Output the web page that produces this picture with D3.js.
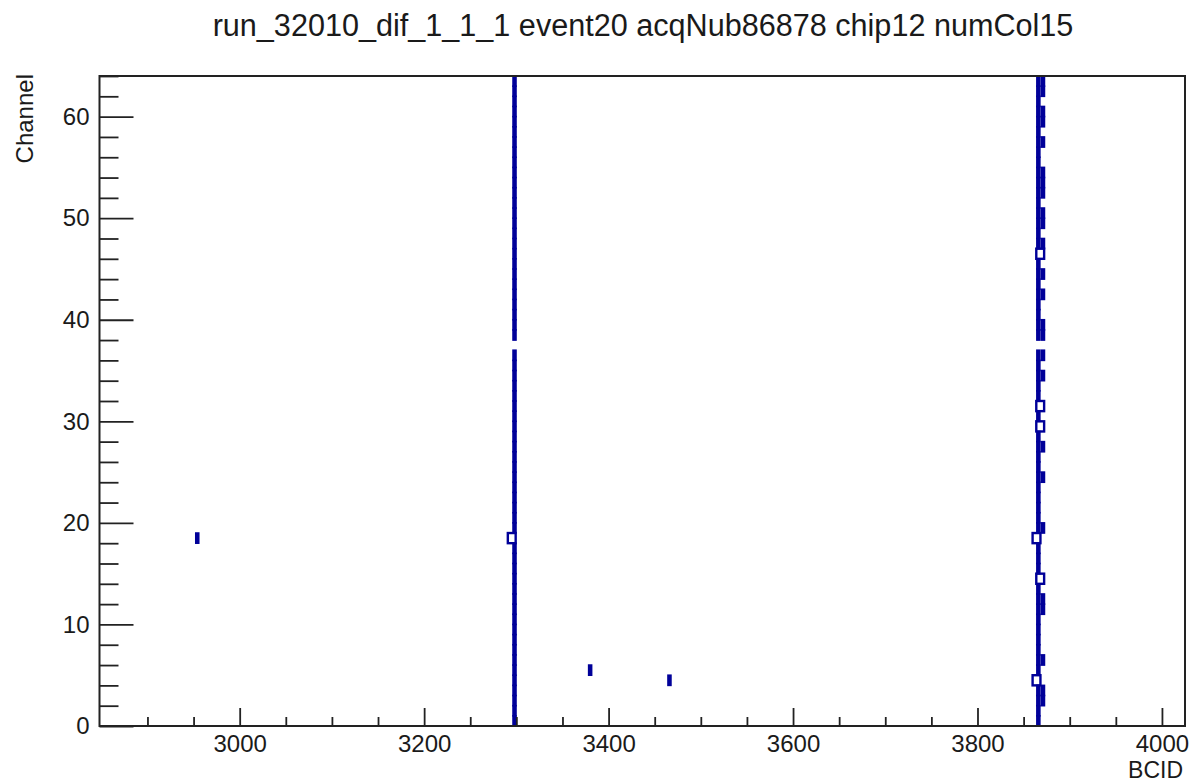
<!DOCTYPE html>
<html>
<head>
<meta charset="utf-8">
<script src="https://cdn.jsdelivr.net/npm/d3@7/dist/d3.min.js"></script>
<style>
  html, body { margin: 0; padding: 0; background: #fff; }
  svg { display: block; }
  text { font-family: "Liberation Sans", Arial, Helvetica, sans-serif; fill: #1a1a1a; }
</style>
</head>
<body>
<svg id="chart" width="1193" height="783"></svg>
<script>
// ---------------- data ----------------
const chartTitle = "run_32010_dif_1_1_1 event20 acqNub86878 chip12 numCol15";
const xTitle = "BCID";
const yTitle = "Channel";

const bcidRange = [2848, 4025];
const channelRange = [0, 64];

const xMajorTicks = [3000, 3200, 3400, 3600, 3800, 4000];
const xMinorTicks = [2900, 2950, 3050, 3100, 3150, 3250, 3300, 3350, 3450, 3500, 3550, 3650, 3700, 3750, 3850, 3900, 3950];
const yMajorTicks = [0, 10, 20, 30, 40, 50, 60];
const yMinorTicks = [2, 4, 6, 8, 12, 14, 16, 18, 22, 24, 26, 28, 32, 34, 36, 38, 42, 44, 46, 48, 52, 54, 56, 58, 62, 64];

// column of single hits at BCID ~3298
const leftColumnBcid = 3298;
const leftColumnChannels = [0,1,2,3,4,5,6,7,8,9,10,11,12,13,14,15,16,17,19,20,21,22,23,24,25,26,27,28,29,30,31,32,33,34,35,36,38,39,40,41,42,43,44,45,46,47,48,49,50,51,52,53,54,55,56,57,58,59,60,61,62,63];

// column of single hits at BCID ~3866
const rightColumnBcid = 3866;
const rightColumnChannels = [0,1,2,3,5,6,7,8,9,10,11,12,13,15,16,17,19,20,21,22,23,24,25,26,27,28,30,32,33,34,35,36,38,39,40,41,42,43,44,45,47,48,49,50,51,52,53,54,55,56,57,58,59,60,61,62,63];

// neighbouring column of single hits at BCID ~3871
const rightSideBcid = 3871;
const rightSideChannels = [63,62,60,59,57,54,53,52,50,49,47,44,42,39,38,36,34,27,24,19,12,11,6,3,2];

// cells with two hits (drawn as open boxes)
const doubleBcid    = [3295, 3864, 3864, 3868, 3868, 3868, 3868];
const doubleChannel = [18,   18,   4,    46,   31,   29,   14];
const doubleCount   = [2,    2,    2,    2,    2,    2,    2];

// isolated single hits
const isolatedBcid    = [2954, 3380, 3466];
const isolatedChannel = [18,   5,    4];
const isolatedCount   = [1,    1,    1];

// ---------------- build cells ----------------
const cells = [];
leftColumnChannels.forEach(c => cells.push({bcid: leftColumnBcid, channel: c, count: 1}));
rightColumnChannels.forEach(c => cells.push({bcid: rightColumnBcid, channel: c, count: 1}));
rightSideChannels.forEach(c => cells.push({bcid: rightSideBcid, channel: c, count: 1}));
isolatedBcid.forEach((b, i) => cells.push({bcid: b, channel: isolatedChannel[i], count: isolatedCount[i]}));
doubleBcid.forEach((b, i) => cells.push({bcid: b, channel: doubleChannel[i], count: doubleCount[i]}));

// ---------------- layout ----------------
const svg = d3.select("#chart");
const frame = {left: 99.5, right: 1185, top: 76, bottom: 726};
const blue = "#000099";
const axisColor = "#222";

const x = d3.scaleLinear().domain(bcidRange).range([frame.left, frame.right]);
const y = d3.scaleLinear().domain(channelRange).range([frame.bottom, frame.top]);

// box width in BCID units per hit multiplicity
const boxWidth = d3.scaleOrdinal().domain([1, 2]).range([3.2, 8.5]);

const plot = svg.append("g");
plot.selectAll("rect.cell")
  .data(cells)
  .join("rect")
  .attr("class", "cell")
  .attr("x", d => x(d.bcid - boxWidth(d.count) / 2))
  .attr("width", d => x(d.bcid + boxWidth(d.count) / 2) - x(d.bcid - boxWidth(d.count) / 2))
  .attr("y", d => y(d.channel + 1))
  .attr("height", d => y(d.channel) - y(d.channel + 1))
  .attr("fill", d => d.count === 1 ? blue : "none")
  .attr("stroke", blue)
  .attr("stroke-width", d => d.count === 1 ? 1.6 : 2.4);

// ---------------- axes ----------------
function styleAxis(g) {
  g.select(".domain").remove();
  g.selectAll(".tick line").attr("stroke", axisColor).attr("stroke-width", 1.8);
  g.selectAll(".tick text").attr("fill", "#1a1a1a").style("font-size", "24px")
    .style("font-family", '"Liberation Sans", Arial, sans-serif');
}

// x axis major
svg.append("g")
  .attr("transform", `translate(0,${frame.bottom})`)
  .call(d3.axisBottom(x).tickValues(xMajorTicks).tickFormat(d3.format("d"))
    .tickSizeInner(-18).tickSizeOuter(0).tickPadding(9))
  .call(styleAxis);
// x axis minor
svg.append("g")
  .attr("transform", `translate(0,${frame.bottom})`)
  .call(d3.axisBottom(x).tickValues(xMinorTicks).tickFormat("")
    .tickSizeInner(-9).tickSizeOuter(0))
  .call(styleAxis);

// y axis major
svg.append("g")
  .attr("transform", `translate(${frame.left},0)`)
  .call(d3.axisLeft(y).tickValues(yMajorTicks).tickFormat(d3.format("d"))
    .tickSizeInner(-34).tickSizeOuter(0).tickPadding(10))
  .call(styleAxis);
// y axis minor
svg.append("g")
  .attr("transform", `translate(${frame.left},0)`)
  .call(d3.axisLeft(y).tickValues(yMinorTicks).tickFormat("")
    .tickSizeInner(-19).tickSizeOuter(0))
  .call(styleAxis);

// frame
svg.append("rect")
  .attr("x", frame.left).attr("y", frame.top)
  .attr("width", frame.right - frame.left).attr("height", frame.bottom - frame.top)
  .attr("fill", "none").attr("stroke", axisColor).attr("stroke-width", 2);

// ---------------- titles ----------------
svg.append("text")
  .attr("x", 643).attr("y", 36)
  .attr("text-anchor", "middle")
  .style("font-size", "30.6px")
  .text(chartTitle);

svg.append("text")
  .attr("x", frame.right - 2).attr("y", 778)
  .attr("text-anchor", "end")
  .style("font-size", "23px")
  .text(xTitle);

svg.append("text")
  .attr("transform", `translate(33,${frame.top - 2}) rotate(-90)`)
  .attr("text-anchor", "end")
  .style("font-size", "24px")
  .text(yTitle);
</script>
</body>
</html>
